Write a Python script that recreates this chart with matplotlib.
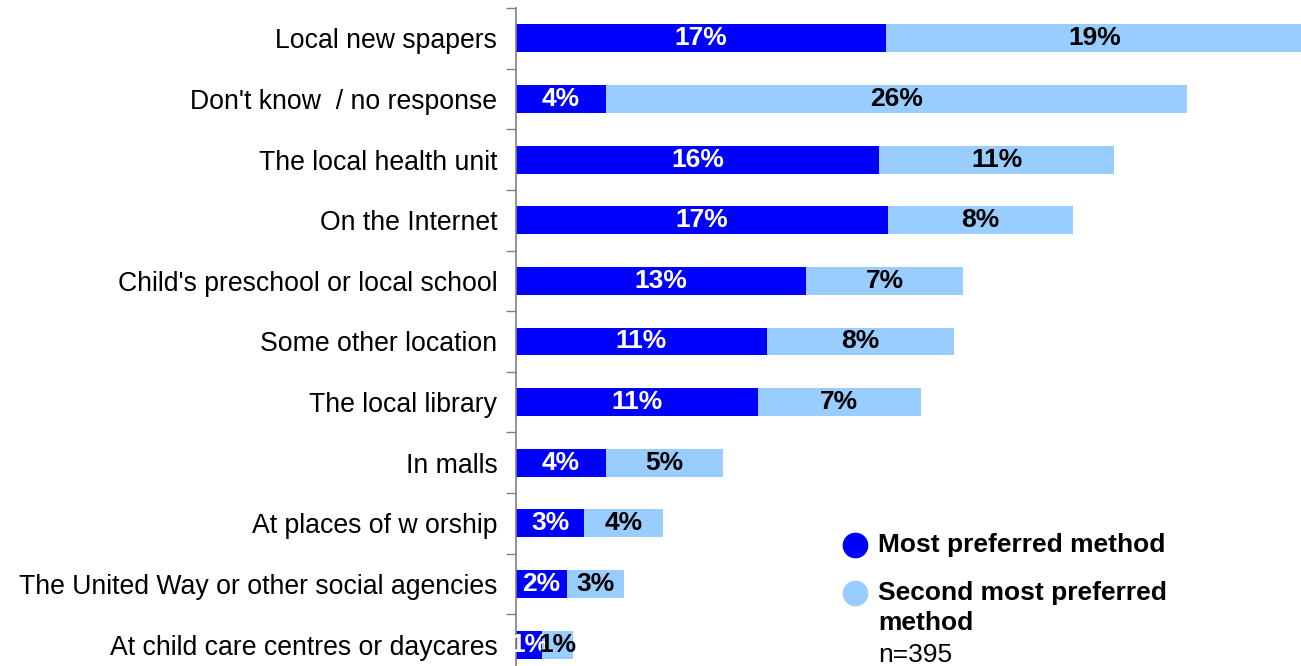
import matplotlib.pyplot as plt
from matplotlib.lines import Line2D

plt.rcParams['font.family'] = ['Liberation Sans', 'DejaVu Sans']

categories = [
    "Local new spapers",
    "Don't know  / no response",
    "The local health unit",
    "On the Internet",
    "Child's preschool or local school",
    "Some other location",
    "The local library",
    "In malls",
    "At places of w orship",
    "The United Way or other social agencies",
    "At child care centres or daycares",
]
most_preferred = [16.8, 4.1, 16.5, 16.9, 13.2, 11.4, 11.0, 4.1, 3.1, 2.3, 1.2]
second_preferred = [19.0, 26.4, 10.7, 8.4, 7.1, 8.5, 7.4, 5.3, 3.6, 2.6, 1.4]
most_labels = [17, 4, 16, 17, 13, 11, 11, 4, 3, 2, 1]
second_labels = [19, 26, 11, 8, 7, 8, 7, 5, 4, 3, 1]

dark = "#0000FF"
light = "#99CCFF"

fig = plt.figure(figsize=(13.01, 6.66), dpi=100)
ax = fig.add_axes([516 / 1301, -9 / 666, 785 / 1301, 667 / 666])

y = list(range(len(categories)))
ax.barh(y, most_preferred, height=0.46, color=dark)
ax.barh(y, second_preferred, left=most_preferred, height=0.46, color=light)

for i in y:
    m, s = most_preferred[i], second_preferred[i]
    ax.text(m / 2, i, f"{most_labels[i]}%", ha="center", va="center",
            color="white", fontsize=19, fontweight="bold")
    ax.text(m + s / 2, i, f"{second_labels[i]}%", ha="center", va="center",
            color="black", fontsize=19, fontweight="bold")

ax.set_xlim(0, 785 / 22.0)
ax.set_ylim(len(categories) - 0.5, -0.5)

# category labels, ticks between categories
ax.set_yticks(y)
ax.set_yticklabels(categories, fontsize=19.2)
ax.tick_params(axis="y", which="major", length=0, pad=13.5)
ax.set_yticks([i - 0.5 for i in range(len(categories) + 1)], minor=True)
ax.tick_params(axis="y", which="minor", length=7, width=1, color="#808080")
ax.set_xticks([])
for side in ["top", "right", "bottom"]:
    ax.spines[side].set_visible(False)
ax.spines["left"].set_color("#808080")
ax.spines["left"].set_linewidth(1.2)

# legend drawn by hand to match the layout
fx = lambda px: px / 1301
fy = lambda py: 1 - py / 666
for col, py in [(dark, 545), (light, 593)]:
    fig.add_artist(Line2D([fx(855)], [fy(py)], marker="o", markersize=17.5,
                          linestyle="", color=col, transform=fig.transFigure))
fig.text(fx(878), fy(545), "Most preferred method", fontsize=19,
         fontweight="bold", va="center")
fig.text(fx(878), fy(593), "Second most preferred", fontsize=19,
         fontweight="bold", va="center")
fig.text(fx(878), fy(623), "method", fontsize=19,
         fontweight="bold", va="center")
fig.text(fx(878), fy(655), "n=395", fontsize=19, va="center")

fig.savefig("out.png", dpi=100)
